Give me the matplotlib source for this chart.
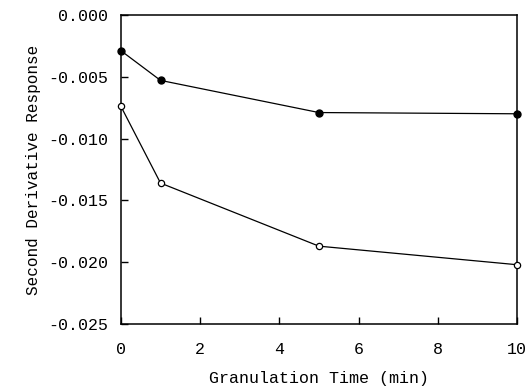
import matplotlib
matplotlib.use("Agg")
import matplotlib.pyplot as plt

# granulation time (min)
time_min = [0, 1, 5, 10]
# second derivative response, two series
filled_resp = [-0.0029, -0.0053, -0.0079, -0.0080]
open_resp = [-0.0074, -0.0136, -0.0187, -0.0202]

x_ticks = [0, 2, 4, 6, 8, 10]
y_ticks = [0.000, -0.005, -0.010, -0.015, -0.020, -0.025]

plt.rcParams['font.family'] = ['Liberation Mono', 'DejaVu Sans Mono']

fig = plt.figure(figsize=(5.28, 3.9), dpi=100)
ax = fig.add_axes([0.229, 0.169, 0.75, 0.793])

ax.plot(time_min, filled_resp, 'k-', linewidth=0.9, marker='o', markersize=5,
        markerfacecolor='black', markeredgecolor='black', clip_on=False, zorder=3)
ax.plot(time_min, open_resp, 'k-', linewidth=0.9, marker='o', markersize=4.5,
        markerfacecolor='white', markeredgecolor='black', markeredgewidth=0.9,
        clip_on=False, zorder=3)

ax.set_xlim(0, 10)
ax.set_ylim(-0.025, 0.0)
ax.set_xticks(x_ticks)
ax.set_yticks(y_ticks)
ax.set_xticklabels([str(v) for v in x_ticks])
ax.set_yticklabels(["%.3f" % v if v != 0 else "0.000" for v in y_ticks])

ax.tick_params(axis='both', direction='in', length=5, width=1, labelsize=12,
               colors='black')
ax.tick_params(axis='x', pad=13)
ax.tick_params(axis='y', pad=9)

for s in ax.spines.values():
    s.set_linewidth(1.1)
    s.set_color('black')

ax.set_xlabel("Granulation Time (min)", fontsize=12, labelpad=10)
ax.set_ylabel("Second Derivative Response", fontsize=11.5, labelpad=5)

fig.savefig("out.png", dpi=100)
